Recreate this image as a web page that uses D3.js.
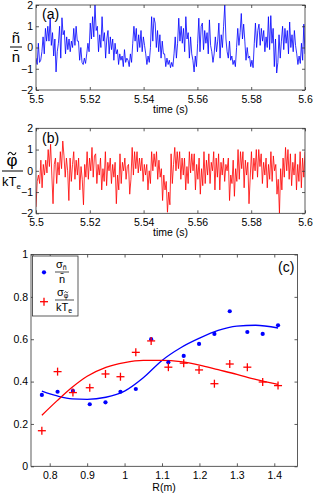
<!DOCTYPE html>
<html>
<head>
<meta charset="utf-8">
<script src="https://cdnjs.cloudflare.com/ajax/libs/d3/7.8.5/d3.min.js"></script>
<style>
body { margin: 0; background: #fff; }
text { font-family: "Liberation Sans", Arial, sans-serif; fill: #000; }
</style>
</head>
<body>
<div id="chart"></div>
<script>
// (a) normalised density fluctuation
var densFluct = [
  -0.5, -0.8, 0.2, -0.7, -0.6, -0.2, 0.5, -0.3, 0.9, 0.3, 1.0, 0.3, 1.4, 0.1, 0.7, -0.4, 0.4, -1.15, -0.2,
  0.2, 1.0, -0.5, 1.4, 0.6, 0.8, -0.3, 0.5, -0.1, 0.4, -0.2, 0.3, 0.0, 0.9, 0.1, 1.0, 0.3, 0.3, -0.6, 0.0,
  -0.7, -0.8, -0.5, -0.75, -0.3, 0.2, -0.2, 1.15, 0.4, 1.45, 0.5, 2.0, 0.8, 1.0, -0.2, 0.6, 0.0, 1.45, 0.3,
  0.7, -0.5, 0.4, 0.8, -0.3, 0.5, -0.1, 0.4, -0.6, 0.2, -0.3, -0.1, -0.8, -0.3, -0.6, -0.4, -0.9, -0.1, -0.7, -0.5,
  -0.6, -0.9, -0.3, -0.7, 0.2, 1.0, 0.3, 0.9, -0.2, 0.6, 0.0, 0.8, -0.2, 0.5, 0.1, -0.3, -0.8, -0.4, -0.7,
  0.0, 1.45, 0.3, 1.4, 1.15, 0.0, 0.8, -0.2, 0.6, -0.5, 0.3, -0.3, -0.3, -0.9, -0.5, -0.8, -0.6, -0.95, -0.7,
  -0.9, -0.3, 0.5, -0.5, 0.2, 1.38, 0.3, 1.0, 0.2, 0.9, -0.2, 1.45, 0.4, 0.7, -0.5, 0.5, -0.3, -0.6, -1.15,
  -0.4, -0.9, 0.2, 1.38, -0.2, 1.0, 1.15, -0.1, 0.8, 0.2, 0.7, -0.3, 1.3, 0.1, -0.2, -0.7, -0.3,
  0.5, -0.2, 0.3, 1.15, -0.5, 0.6, 0.0, 1.0, 2.0, 0.4, -0.2, -0.5, 0.3, -0.6, -0.4, -0.8, -0.6, -0.9, 0.0,
  0.9, 0.1, 0.7, 1.6, 0.4, 1.1, 0.3, -0.6, 0.0, -0.5, -0.4, -0.9, -0.6, -0.95, 0.2, 1.15, 0.0, 0.8, 1.1,
  0.1, 0.9, 0.3, 0.8, -0.2, 0.5, 0.0, 1.45, -0.1, 1.5, 0.2, 0.9, -0.9, 0.4, -1.2, -0.7, 0.6, -0.5, 0.3,
  1.0, -0.1, 0.9, 0.2, 0.8, -0.3, 1.2, 0.0, 0.6, -0.2, 0.8, 0.1, -0.3, -0.8, -0.4, -0.75, 0.2, -0.6, 1.1, -0.3
];

// (b) normalised potential fluctuation
var potFluct = [
  -1.7, -0.5, -0.2, -0.6, 0.5, -0.8, 0.3, -0.2, 0.5, -0.1, 1.0, 0.2, 1.25, -0.2, -1.55, 0.3, 0.6, -0.6, 0.4,
  -0.2, 0.9, 0.1, 1.4, 0.7, -0.3, 0.6, 0.0, -1.4, 0.6, -0.5, 0.3, 0.9, -0.4, 0.5, -0.2, 0.6, -0.9, 0.2, -0.4,
  -1.6, 0.3, -0.3, 0.9, -0.4, 0.6, 0.0, 1.1, -0.3, 0.7, 0.8, -0.6, 0.3, -0.2, 0.6, -0.9, 0.1, -0.5, 0.9,
  -0.7, 0.4, 0.0, 0.6, -0.6, 0.3, -0.3, 0.4, -1.55, -0.2, -0.9, 0.8, -0.6, 0.4, 0.0, 0.6, -0.4, 0.2,
  0.3, -1.1, -0.4, 1.1, -0.2, 0.9, 0.1, 0.9, -0.1, 0.6, 0.0, 0.6, -0.5, 0.3, -0.2, 0.3, -0.9, 0.0, -0.6,
  0.9, 0.0, 0.8, 0.2, 0.9, -0.4, 0.5, -0.3, 0.1, -1.4, -0.2, -0.9, -0.5, -1.95, -1.0, -1.6, 0.8, -0.6, 0.3,
  1.1, 0.0, 0.9, 0.1, 0.9, -0.4, 0.6, -0.2, 0.6, -0.9, 0.2, -0.6, 0.9, -0.1, 0.8, 0.0, 0.8, -0.9, 0.3, -0.4,
  0.6, -1.1, 0.1, -0.7, 0.9, -0.6, 0.5, -0.2, 0.8, -0.6, 0.4, 0.0, 0.9, -0.9, 0.6, -0.3,
  0.8, -0.9, 0.4, -0.2, 0.6, -0.5, 0.3, 0.0, 0.6, -1.4, -0.2, -0.6, 0.5, -1.2, 0.1, -0.5, 1.0, -0.4, 0.9,
  0.1, 0.9, -0.8, 0.5, -0.2, 0.4, -1.55, -0.3, 0.9, -0.4, 0.6, 0.0, 1.0, -0.3, 1.0, 0.2, 0.8, -0.6, 0.4,
  -0.2, 0.6, -0.8, 0.3, -0.4, 0.9, -0.5, 0.7, 0.0, 0.3, -1.1, -0.4, -2.0, 0.1, -0.9, 0.6, -0.3, 1.1, 0.0,
  1.0, -0.4, 0.8, -0.7, 0.4, -0.2, 0.8, -0.9, 0.3, -0.5, 0.9, -0.8, 0.6, -0.3, 0.9
];

// (c) fluctuation levels vs major radius
var radius   = [0.779, 0.821, 0.862, 0.907, 0.949, 0.989, 1.03, 1.071, 1.117, 1.158, 1.199, 1.24, 1.281, 1.328, 1.369, 1.41];
var sigmaN   = [0.337, 0.352, 0.356, 0.293, 0.302, 0.352, 0.365, 0.600, 0.491, 0.521, 0.578, 0.625, 0.732, 0.634, 0.625, 0.666];
var sigmaPhi = [0.168, 0.447, 0.348, 0.371, 0.436, 0.423, 0.538, 0.592, 0.468, 0.487, 0.455, 0.390, 0.483, 0.468, 0.398, 0.381];

// fitted curves
var fitR   = [0.779, 0.82, 0.86, 0.90, 0.95, 1.0, 1.05, 1.1, 1.15, 1.2, 1.25, 1.3, 1.35, 1.41];
var fitN   = [0.355, 0.332, 0.318, 0.316, 0.326, 0.355, 0.418, 0.5, 0.56, 0.605, 0.642, 0.662, 0.666, 0.653];
var fitPhi = [0.241, 0.31, 0.373, 0.425, 0.467, 0.49, 0.5, 0.5, 0.494, 0.478, 0.456, 0.434, 0.41, 0.387];

var timeTicks = [5.5, 5.52, 5.54, 5.56, 5.58, 5.6];
var fluctTicks = [-2, -1, 0, 1, 2];
var rTicks = [0.8, 0.9, 1, 1.1, 1.2, 1.3, 1.4];
var sigTicks = [0, 0.2, 0.4, 0.6, 0.8, 1];

var width = 313, height = 493;

var svg = d3.select("#chart")
  .append("svg")
  .attr("width", width)
  .attr("height", height);

var fmtMinus = function(d) { return d < 0 ? "\u2212" + Math.abs(d) : "" + d; };

function drawBox(g, x, y) {
  var x0 = x.range()[0], x1 = x.range()[1], y0 = y.range()[0], y1 = y.range()[1];
  g.append("rect")
    .attr("x", x0).attr("y", y1)
    .attr("width", x1 - x0).attr("height", y0 - y1)
    .attr("fill", "none").attr("stroke", "#333").attr("stroke-width", 0.8);
}

function styleAxis(sel) {
  sel.select(".domain").remove();
  sel.selectAll(".tick line").attr("stroke", "#333").attr("stroke-width", 0.8);
  sel.selectAll(".tick text").attr("font-family", "Liberation Sans, Arial, sans-serif").attr("fill", "#000");
}

function addAxes(x, y, xTicks, yTicks, xFmt, yFmt, fontSize, xPad) {
  var x0 = x.range()[0], x1 = x.range()[1], y0 = y.range()[0], y1 = y.range()[1];
  svg.append("g").attr("transform", "translate(0," + y0 + ")")
    .call(d3.axisBottom(x).tickValues(xTicks).tickFormat(xFmt).tickSize(-3).tickPadding(xPad))
    .call(styleAxis).attr("font-size", fontSize);
  svg.append("g").attr("transform", "translate(0," + y1 + ")")
    .call(d3.axisTop(x).tickValues(xTicks).tickFormat("").tickSize(-3))
    .call(styleAxis);
  svg.append("g").attr("transform", "translate(" + x0 + ",0)")
    .call(d3.axisLeft(y).tickValues(yTicks).tickFormat(yFmt).tickSize(-3).tickPadding(3))
    .call(styleAxis).attr("font-size", fontSize);
  svg.append("g").attr("transform", "translate(" + x1 + ",0)")
    .call(d3.axisRight(y).tickValues(yTicks).tickFormat("").tickSize(-3))
    .call(styleAxis);
}

// small tilde accent drawn as a path
function tilde(cx, cy, w) {
  var h = w / 4;
  svg.append("path")
    .attr("d", "M" + (cx - w / 2) + "," + (cy + h / 2) +
               " Q" + (cx - w / 4) + "," + (cy - h * 1.5) + " " + cx + "," + cy +
               " T" + (cx + w / 2) + "," + (cy - h / 2))
    .attr("fill", "none").attr("stroke", "#000").attr("stroke-width", w > 5 ? 1.1 : 0.7);
}

// time-series panels
function timePanel(values, top, bottom, color, id) {
  var x = d3.scaleLinear().domain([5.5, 5.6]).range([36, 305]);
  var y = d3.scaleLinear().domain([-2, 2]).range([bottom, top]);
  var n = values.length;

  svg.append("clipPath").attr("id", id)
    .append("rect").attr("x", 36).attr("y", top).attr("width", 269).attr("height", bottom - top);

  var line = d3.line()
    .x(function(d, i) { return x(5.5 + 0.1 * i / (n - 1)); })
    .y(function(d) { return y(d); });

  svg.append("path")
    .datum(values)
    .attr("clip-path", "url(#" + id + ")")
    .attr("fill", "none")
    .attr("stroke", color)
    .attr("stroke-width", 0.95)
    .attr("stroke-opacity", 0.85)
    .attr("d", line);

  addAxes(x, y, timeTicks, fluctTicks, function(d) { return d3.format("")(d); }, fmtMinus, 10.5, 5.5);
  drawBox(svg, x, y);

  svg.append("text")
    .attr("x", 170.5).attr("y", bottom + 23)
    .attr("text-anchor", "middle")
    .attr("font-size", 10.5)
    .text("time (s)");
}

timePanel(densFluct, 5, 90, "#0000ff", "clipA");
timePanel(potFluct, 128.3, 213.3, "#ff0000", "clipB");

svg.append("text").attr("x", 42).attr("y", 19).attr("font-size", 14).text("(a)");
svg.append("text").attr("x", 42).attr("y", 143).attr("font-size", 14).text("(b)");

// y label (a): n~ over n-bar
svg.append("text").attr("x", 16).attr("y", 43).attr("text-anchor", "middle").attr("font-size", 15).text("\u00f1");
svg.append("line").attr("x1", 10).attr("x2", 22).attr("y1", 47).attr("y2", 47).attr("stroke", "#000").attr("stroke-width", 1);
svg.append("text").attr("x", 16).attr("y", 62).attr("text-anchor", "middle").attr("font-size", 15).text("n\u0304");

// y label (b): phi~ over kTe
svg.append("text").attr("x", 12).attr("y", 166).attr("text-anchor", "middle").attr("font-size", 17).text("\u03c6");
tilde(12, 153.5, 8);
svg.append("line").attr("x1", 2).attr("x2", 23).attr("y1", 171).attr("y2", 171).attr("stroke", "#000").attr("stroke-width", 1);
var kte = svg.append("text").attr("x", 2).attr("y", 186).attr("font-size", 13);
kte.append("tspan").text("kT");
kte.append("tspan").attr("font-size", 8).attr("dy", 3).text("e");

// (c) panel
var xr = d3.scaleLinear().domain([0.75, 1.462]).range([31, 297.5]);
var ys = d3.scaleLinear().domain([0, 1]).range([466.3, 254.5]);

addAxes(xr, ys, rTicks, sigTicks, function(d) { return "" + d; }, function(d) { return "" + d; }, 10.5, 5.5);
drawBox(svg, xr, ys);

svg.append("text").attr("x", 164).attr("y", 490.5).attr("text-anchor", "middle").attr("font-size", 10.5).text("R(m)");
svg.append("text").attr("x", 278).attr("y", 272).attr("font-size", 14).text("(c)");

var fitLine = function(vals) {
  return d3.line()
    .x(function(d, i) { return xr(fitR[i]); })
    .y(function(d) { return ys(d); })
    .curve(d3.curveMonotoneX)(vals);
};

svg.append("path").attr("d", fitLine(fitN)).attr("fill", "none").attr("stroke", "#0000ff").attr("stroke-width", 1.3);
svg.append("path").attr("d", fitLine(fitPhi)).attr("fill", "none").attr("stroke", "#ff0000").attr("stroke-width", 1.3);

svg.append("g").selectAll("circle")
  .data(sigmaN)
  .enter().append("circle")
  .attr("cx", function(d, i) { return xr(radius[i]); })
  .attr("cy", function(d) { return ys(d); })
  .attr("r", 2.1)
  .attr("fill", "#0000ff");

var cross = svg.append("g").selectAll("g")
  .data(sigmaPhi)
  .enter().append("g")
  .attr("transform", function(d, i) { return "translate(" + xr(radius[i]) + "," + ys(d) + ")"; });
cross.append("line").attr("x1", -4).attr("x2", 4).attr("stroke", "#ff0000").attr("stroke-width", 1.3);
cross.append("line").attr("y1", -4).attr("y2", 4).attr("stroke", "#ff0000").attr("stroke-width", 1.3);

// legend
var leg = svg.append("g");
leg.append("rect").attr("x", 32.5).attr("y", 256).attr("width", 45.5).attr("height", 60)
  .attr("fill", "#fff").attr("stroke", "#333").attr("stroke-width", 0.8);
leg.append("circle").attr("cx", 44).attr("cy", 272.3).attr("r", 2.1).attr("fill", "#0000ff");
leg.append("line").attr("x1", 40).attr("x2", 48).attr("y1", 301.7).attr("y2", 301.7).attr("stroke", "#ff0000").attr("stroke-width", 1.3);
leg.append("line").attr("x1", 44).attr("x2", 44).attr("y1", 297.7).attr("y2", 305.7).attr("stroke", "#ff0000").attr("stroke-width", 1.3);

var s1 = leg.append("text").attr("x", 56).attr("y", 268).attr("font-size", 11);
s1.append("tspan").text("\u03c3");
s1.append("tspan").attr("font-size", 7).attr("dy", 2).text("\u00f1");
leg.append("line").attr("x1", 55).attr("x2", 69).attr("y1", 272).attr("y2", 272).attr("stroke", "#000").attr("stroke-width", 0.7);
leg.append("text").attr("x", 62).attr("y", 283).attr("text-anchor", "middle").attr("font-size", 11).text("n\u0304");

var s2 = leg.append("text").attr("x", 57).attr("y", 296).attr("font-size", 11);
s2.append("tspan").text("\u03c3");
s2.append("tspan").attr("font-size", 7).attr("dy", 2).text("\u03c6");
tilde(66.3, 292.2, 3.6);
leg.append("line").attr("x1", 55).attr("x2", 74).attr("y1", 300).attr("y2", 300).attr("stroke", "#000").attr("stroke-width", 0.7);
var s3 = leg.append("text").attr("x", 56).attr("y", 311).attr("font-size", 11);
s3.append("tspan").text("kT");
s3.append("tspan").attr("font-size", 7).attr("dy", 2).text("e");
</script>
</body>
</html>
